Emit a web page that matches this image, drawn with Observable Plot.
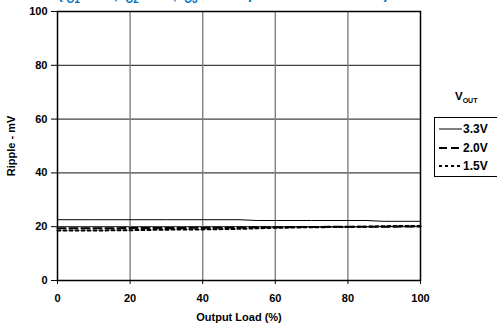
<!DOCTYPE html>
<html><head><meta charset="utf-8">
<script src="https://cdn.jsdelivr.net/npm/d3@7"></script>
<script src="https://cdn.jsdelivr.net/npm/@observablehq/plot@0.6"></script>
<style>
body{margin:0;background:#fff;font-family:"Liberation Sans",Arial,sans-serif;}
#wrap{position:relative;width:497px;height:327px;overflow:hidden;}
#title{position:absolute;left:58px;top:-14px;font-weight:bold;font-size:14px;color:#0070C0;white-space:nowrap;}
#title sub{font-size:10px;}
#vout{position:absolute;left:455px;top:90px;font-weight:bold;font-size:11.5px;}
#vout sub{font-size:7px;}
#leg{position:absolute;left:434px;top:117px;width:70px;height:58px;border:1px solid #000;border-right:none;font-weight:bold;font-size:12px;}
.row{position:absolute;left:4px;height:14px;display:flex;align-items:center;}
.row svg{display:block;}
.row span{margin-left:1px;}
</style></head>
<body><div id="wrap">
<div id="title">(I<sub>O1</sub> = 1A, I<sub>O2</sub> = 1A, I<sub>O3</sub> = 1A represents 100% Load)</div>
<div id="chart"></div>
<div id="vout">V<sub>OUT</sub></div>
<div id="leg"></div>
</div>
<script>
const load = [0, 10, 20, 30, 40, 50, 55, 60, 70, 80, 85, 90, 100];
const v33 = [22.6, 22.6, 22.6, 22.6, 22.6, 22.6, 22.3, 22.3, 22.3, 22.3, 22.3, 22.0, 22.0];
const v20 = [19.4, 19.4, 19.5, 19.5, 19.6, 19.7, 19.8, 19.8, 19.9, 20.0, 20.0, 20.0, 20.1];
const v15 = [18.6, 18.6, 18.7, 18.9, 19.0, 19.2, 19.4, 19.6, 19.8, 19.9, 20.0, 20.2, 20.3];
const seriesNames = ["3.3V", "2.0V", "1.5V"];
const xTicks = [0, 20, 40, 60, 80, 100];
const yTicks = [0, 20, 40, 60, 80, 100];
const xGrid = [20, 40, 60, 80];
const yGrid = [20, 40, 60, 80];

const styles = {
  "3.3V": {sw: 1, dash: null},
  "2.0V": {sw: 2, dash: "8,4"},
  "1.5V": {sw: 2, dash: "3,3"}
};
const vals = {"3.3V": v33, "2.0V": v20, "1.5V": v15};
const lines = seriesNames.map(n => Plot.line(load.map((x, i) => ({x, y: vals[n][i]})), {
  x: "x", y: "y", stroke: "#000", strokeWidth: styles[n].sw, strokeDasharray: styles[n].dash
}));

const chart = Plot.plot({
  width: 497, height: 327,
  marginLeft: 57, marginRight: 77, marginTop: 11, marginBottom: 47,
  style: {fontFamily: "Liberation Sans, Arial, sans-serif", fontWeight: "bold", fontSize: "11px", color: "#000"},
  x: {domain: [0, 100], ticks: xTicks, tickSize: 4, tickPadding: 10, label: "Output Load (%)", labelAnchor: "center", labelOffset: 40, labelArrow: false},
  y: {domain: [0, 100], ticks: yTicks, tickSize: 6, tickPadding: 4, label: "Ripple - mV", labelAnchor: "center", labelOffset: 50, labelArrow: false},
  marks: [
    Plot.ruleY(yGrid, {stroke: "#111", strokeWidth: 1}),
    Plot.ruleX(xGrid, {stroke: "#808080", strokeWidth: 1.4}),
    Plot.frame({stroke: "#000", strokeWidth: 1.5}),
    ...lines
  ]
});
document.getElementById("chart").appendChild(chart);

const leg = document.getElementById("leg");
seriesNames.forEach((n, i) => {
  const row = document.createElement("div");
  row.className = "row";
  row.style.top = (4 + i * 18.5) + "px";
  const s = styles[n];
  row.innerHTML = `<svg width="23" height="10"><line x1="0" x2="23" y1="5" y2="5" stroke="#000" stroke-width="${s.sw}" ${s.dash ? `stroke-dasharray="${s.dash}"` : ""}/></svg><span>${n}</span>`;
  leg.appendChild(row);
});
</script>
</body></html>
